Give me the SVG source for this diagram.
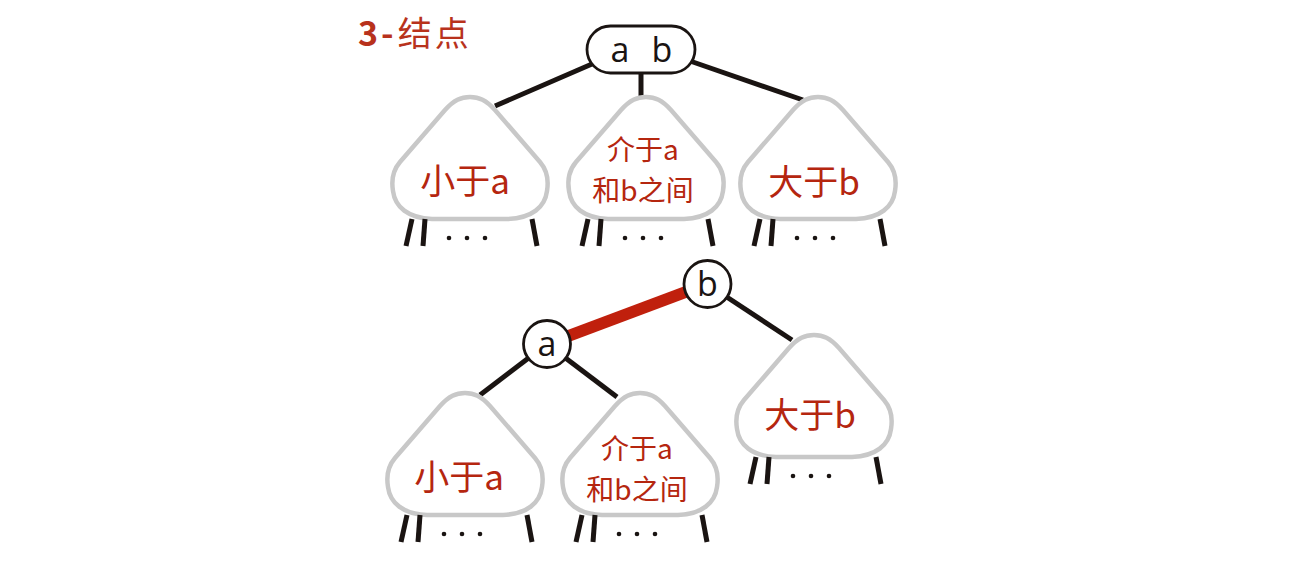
<svg xmlns="http://www.w3.org/2000/svg" xmlns:xlink="http://www.w3.org/1999/xlink" width="1301" height="570" viewBox="0 0 1301 570">
<style>
.tri{fill:#fff;stroke:#c8c8c8;stroke-width:4.5}
.leg{stroke:#1a1412;stroke-width:5;fill:none}
.dot{fill:#1a1412}
.edge{stroke:#1a1412;stroke-width:5;fill:none}
.red{stroke:#c0200d;stroke-width:12;fill:none}
.node{fill:#fff;stroke:#1a1412;stroke-width:2.8}
.lbl{font-family:"Noto Sans CJK SC","Noto Sans",sans-serif;fill:#b5260f;text-anchor:middle}
.key{font-family:"Open Sans","Noto Sans",sans-serif;fill:#1a1412;font-size:34px;text-anchor:middle}
.title{font-family:"Noto Sans CJK SC","Noto Sans",sans-serif;fill:#b8321c;font-size:34px}
</style>
<defs>
<g id="sub">
<path class="tri" d="M0,0 C9,0 16,3 25,13 L70,65 C76,72 79,82 77,94 C75,110 62,121 38,122 L-38,122 C-62,121 -75,110 -77,94 C-79,82 -76,72 -70,65 L-25,13 C-16,3 -9,0 0,0 Z"/>
<line class="leg" x1="-58" y1="122" x2="-64" y2="149"/>
<line class="leg" x1="-45" y1="122" x2="-47" y2="149"/>
<line class="leg" x1="62" y1="122" x2="67" y2="149"/>
<circle class="dot" cx="-21" cy="141" r="2.3"/>
<circle class="dot" cx="-3" cy="141" r="2.3"/>
<circle class="dot" cx="15" cy="141" r="2.3"/>
</g>
</defs>
<text id="title" class="title" x="358" y="46"><tspan font-weight="bold">3</tspan><tspan font-weight="bold" dx="3">-</tspan><tspan dx="4">结</tspan><tspan dx="3">点</tspan></text>
<g id="connectors">
<line class="edge" x1="592" y1="64" x2="495" y2="106"/>
<line class="edge" x1="641" y1="73" x2="641" y2="99"/>
<line class="edge" x1="690" y1="61" x2="803" y2="100"/>
<line class="red" x1="547" y1="344" x2="707" y2="284"/>
<line class="edge" x1="547" y1="344" x2="480" y2="395"/>
<line class="edge" x1="547" y1="344" x2="617" y2="397"/>
<line class="edge" x1="707" y1="284" x2="792" y2="340"/>
</g>
<g id="root">
<rect class="node" x="587" y="26" width="108" height="47" rx="23.5"/>
<text class="key" x="620" y="62">a</text>
<text class="key" x="662" y="62">b</text>
</g>
<g id="t1"><use xlink:href="#sub" x="470" y="97"/><text class="lbl" x="465" y="194" font-size="35">小于a</text></g>
<g id="t2"><use xlink:href="#sub" x="646" y="97"/><text class="lbl" x="643" y="160" font-size="28">介于a</text><text class="lbl" x="643" y="201" font-size="28">和b之间</text></g>
<g id="t3"><use xlink:href="#sub" x="818" y="97"/><text class="lbl" x="814" y="195" font-size="35">大于b</text></g>
<g id="nb"><circle class="node" cx="707.5" cy="284" r="23.5"/><text class="key" x="707.5" y="296">b</text></g>
<g id="na"><circle class="node" cx="547" cy="344" r="23.5"/><text class="key" x="547" y="356">a</text></g>
<g id="t4"><use xlink:href="#sub" x="465" y="393"/><text class="lbl" x="459" y="490" font-size="35">小于a</text></g>
<g id="t5"><use xlink:href="#sub" x="640" y="393"/><text class="lbl" x="637" y="459" font-size="28">介于a</text><text class="lbl" x="637" y="500" font-size="28">和b之间</text></g>
<g id="t6"><use xlink:href="#sub" x="814" y="335"/><text class="lbl" x="810" y="428" font-size="35">大于b</text></g>
</svg>
